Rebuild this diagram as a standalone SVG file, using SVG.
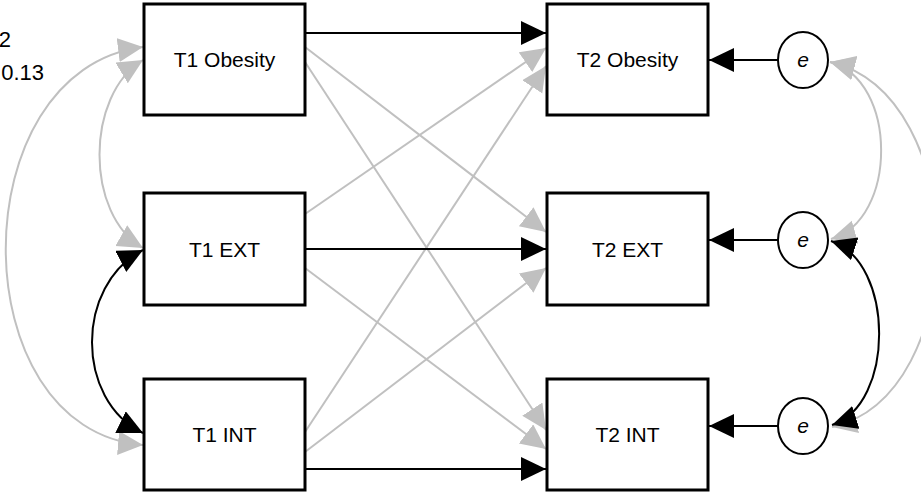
<svg xmlns="http://www.w3.org/2000/svg" width="921" height="494" viewBox="0 0 921 494">
<style>
.box{fill:#fff;stroke:#000;stroke-width:3}
.lbl{font-family:"Liberation Sans",Arial,sans-serif;font-size:21px;fill:#000;text-anchor:middle}
.err{fill:#fff;stroke:#000;stroke-width:2}
.e{font-family:"Liberation Sans",Arial,sans-serif;font-size:21px;font-style:italic;fill:#000;text-anchor:middle}
.blk{fill:none;stroke:#000;stroke-width:2}
.gry{fill:none;stroke:#c0c0c0;stroke-width:2}
.side{font-family:"Liberation Sans",Arial,sans-serif;font-size:22px;fill:#000;text-anchor:end}
</style>
<defs>
<marker id="ab" markerUnits="userSpaceOnUse" markerWidth="26" markerHeight="26" refX="25" refY="12" orient="auto-start-reverse"><path d="M0,0 L25,12 L0,24 z" fill="#000"/></marker>
<marker id="ag" markerUnits="userSpaceOnUse" markerWidth="26" markerHeight="26" refX="25" refY="12" orient="auto-start-reverse"><path d="M0,0 L25,12 L0,24 z" fill="#c0c0c0"/></marker>
</defs>
<g id="side-text">
<text class="side" x="11" y="47">2</text>
<text class="side" x="44" y="80">0.13</text>
</g>
<g id="connectors">
<line class="gry" x1="305" y1="47" x2="546" y2="232" marker-end="url(#ag)"/>
<line class="gry" x1="305" y1="62" x2="546" y2="430" marker-end="url(#ag)"/>
<line class="gry" x1="305" y1="214" x2="546" y2="48" marker-end="url(#ag)"/>
<line class="gry" x1="305" y1="268" x2="546" y2="449" marker-end="url(#ag)"/>
<line class="gry" x1="305" y1="432" x2="546" y2="66" marker-end="url(#ag)"/>
<line class="gry" x1="305" y1="452" x2="546" y2="268" marker-end="url(#ag)"/>
<path class="gry" d="M143,47 C-40,70 -40,430 143,445" marker-start="url(#ag)" marker-end="url(#ag)"/>
<path class="gry" d="M143,60 C85,95 85,215 143,248" marker-start="url(#ag)" marker-end="url(#ag)"/>
<path class="gry" d="M830,62 C898,80 898,220 831,239" marker-start="url(#ag)" marker-end="url(#ag)"/>
<path class="gry" d="M830,62 C972,95 972,395 832,427" marker-start="url(#ag)" marker-end="url(#ag)"/>
<line class="blk" x1="305" y1="33" x2="546" y2="33" marker-end="url(#ab)"/>
<line class="blk" x1="305" y1="249" x2="546" y2="249" marker-end="url(#ab)"/>
<line class="blk" x1="305" y1="469" x2="546" y2="469" marker-end="url(#ab)"/>
<line class="blk" x1="778" y1="60" x2="709" y2="60" marker-end="url(#ab)"/>
<line class="blk" x1="778" y1="240" x2="709" y2="240" marker-end="url(#ab)"/>
<line class="blk" x1="778" y1="426" x2="709" y2="426" marker-end="url(#ab)"/>
<path class="blk" d="M143,250 C75,285 75,400 143,433" marker-start="url(#ab)" marker-end="url(#ab)"/>
<path class="blk" d="M831,241 C895,262 895,405 832,425" marker-start="url(#ab)" marker-end="url(#ab)"/>
</g>
<g id="t1-obesity"><rect class="box" x="144" y="4" width="161" height="111"/><text class="lbl" x="224.5" y="67">T1 Obesity</text></g>
<g id="t1-ext"><rect class="box" x="144" y="193" width="161" height="112"/><text class="lbl" x="224.5" y="257">T1 EXT</text></g>
<g id="t1-int"><rect class="box" x="144" y="379" width="161" height="111"/><text class="lbl" x="224.5" y="442">T1 INT</text></g>
<g id="t2-obesity"><rect class="box" x="547" y="4" width="161" height="111"/><text class="lbl" x="627.5" y="67">T2 Obesity</text></g>
<g id="t2-ext"><rect class="box" x="547" y="193" width="161" height="112"/><text class="lbl" x="627.5" y="257">T2 EXT</text></g>
<g id="t2-int"><rect class="box" x="547" y="379" width="161" height="111"/><text class="lbl" x="627.5" y="442">T2 INT</text></g>
<g id="e1"><ellipse class="err" cx="803" cy="60" rx="25" ry="28"/><text class="e" x="803" y="67">e</text></g>
<g id="e2"><ellipse class="err" cx="803" cy="240" rx="25" ry="28"/><text class="e" x="803" y="247">e</text></g>
<g id="e3"><ellipse class="err" cx="803" cy="426" rx="25" ry="28"/><text class="e" x="803" y="433">e</text></g>
</svg>
